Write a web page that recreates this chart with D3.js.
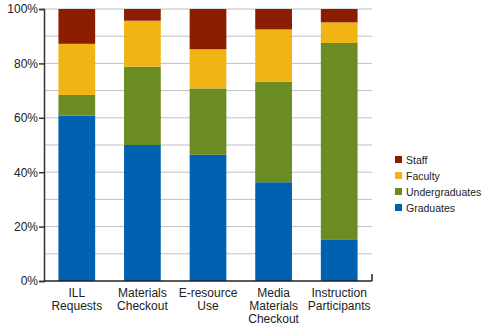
<!DOCTYPE html>
<meta charset="utf-8">
<style>
body { margin: 0; background: #fff; }
svg text { font-family: "Liberation Sans", Arial, sans-serif; fill: #222; }
.grid line { stroke: #c0c0c0; stroke-width: 1px; }
</style>
<body>
<script src="https://d3js.org/d3.v7.min.js"></script>
<script>

// categories and percentages
var categories = ["ILL Requests", "Materials Checkout", "E-resource Use", "Media Materials Checkout", "Instruction Participants"];
var labelLines = [["ILL", "Requests"], ["Materials", "Checkout"], ["E-resource", "Use"], ["Media", "Materials", "Checkout"], ["Instruction", "Participants"]];
var seriesNames = ["Graduates", "Undergraduates", "Faculty", "Staff"];
var graduates = [60.8, 50.0, 46.4, 36.3, 15.1];
var undergraduates = [7.6, 28.8, 24.4, 37.0, 72.4];
var faculty = [18.8, 16.9, 14.4, 19.2, 7.6];
var staff = [12.8, 4.3, 14.8, 7.5, 4.9];
var yTicks = [0, 20, 40, 60, 80, 100];
var colors = ["#0061b1", "#6b8c23", "#f0b415", "#8b1e00"];

var margin = {top: 9, left: 44},
    width = 328,
    height = 272;

var svg = d3.select("body").append("svg")
    .attr("width", 488)
    .attr("height", 326)
  .append("g")
    .attr("transform", "translate(" + margin.left + "," + margin.top + ")");

var x = d3.scaleBand().domain(categories).range([0, width]).paddingInner(0.44).paddingOuter(0.22);
var y = d3.scaleLinear().domain([0, 100]).range([height, 0]);

// rows for stacking
var rows = categories.map(function(c, i) {
  return {cat: c, Graduates: graduates[i], Undergraduates: undergraduates[i], Faculty: faculty[i], Staff: staff[i]};
});
var stacked = d3.stack().keys(seriesNames)(rows);

// gridlines every 10%
svg.append("g")
    .attr("class", "grid")
    .selectAll("line")
    .data(d3.range(10, 101, 10))
  .enter().append("line")
    .attr("x1", 0).attr("x2", width)
    .attr("y1", function(d) { return y(d); })
    .attr("y2", function(d) { return y(d); });

// bars
svg.append("g").selectAll("g")
    .data(stacked)
  .enter().append("g")
    .attr("fill", function(d, i) { return colors[i]; })
  .selectAll("rect")
    .data(function(d) { return d; })
  .enter().append("rect")
    .attr("x", function(d) { return x(d.data.cat); })
    .attr("width", x.bandwidth())
    .attr("y", function(d) { return y(d[1]); })
    .attr("height", function(d) { return y(d[0]) - y(d[1]); });

// y axis
var yAxis = svg.append("g")
    .call(d3.axisLeft(y).tickValues(yTicks).tickSize(5).tickFormat(function(d) { return d + "%"; }));
yAxis.select(".domain").attr("stroke", "#333").attr("stroke-width", 1.5);
yAxis.selectAll(".tick line").attr("stroke", "#333").attr("stroke-width", 1.5);
yAxis.selectAll(".tick text").attr("x", -6).style("font-size", "12px").style("fill", "#222");

// bottom axis line
svg.append("line")
    .attr("x1", 0).attr("x2", width)
    .attr("y1", height).attr("y2", height)
    .attr("stroke", "#222").attr("stroke-width", 1.5);
svg.append("line")
    .attr("x1", width).attr("x2", width)
    .attr("y1", height - 7).attr("y2", height)
    .attr("stroke", "#222").attr("stroke-width", 1.5);

// category labels
svg.append("g").selectAll("text")
    .data(categories)
  .enter().append("text")
    .attr("text-anchor", "middle")
    .style("font-size", "12px")
    .attr("transform", function(d) { return "translate(" + (x(d) + x.bandwidth() / 2) + "," + (height + 16) + ")"; })
    .each(function(d, i) {
      var t = d3.select(this);
      labelLines[i].forEach(function(line, j) {
        t.append("tspan").attr("x", 0).attr("y", j * 13).text(line);
      });
    });

// legend (reverse order: Staff on top)
var legend = svg.append("g")
    .attr("transform", "translate(351,148)")
  .selectAll("g")
    .data(seriesNames.slice().reverse())
  .enter().append("g")
    .attr("transform", function(d, i) { return "translate(0," + (i * 16) + ")"; });

legend.append("rect")
    .attr("width", 7).attr("height", 7)
    .attr("y", -1)
    .attr("fill", function(d) { return colors[seriesNames.indexOf(d)]; });

legend.append("text")
    .attr("x", 11).attr("y", 6.5)
    .style("font-size", "10.5px")
    .text(function(d) { return d; });

</script>
</body>
